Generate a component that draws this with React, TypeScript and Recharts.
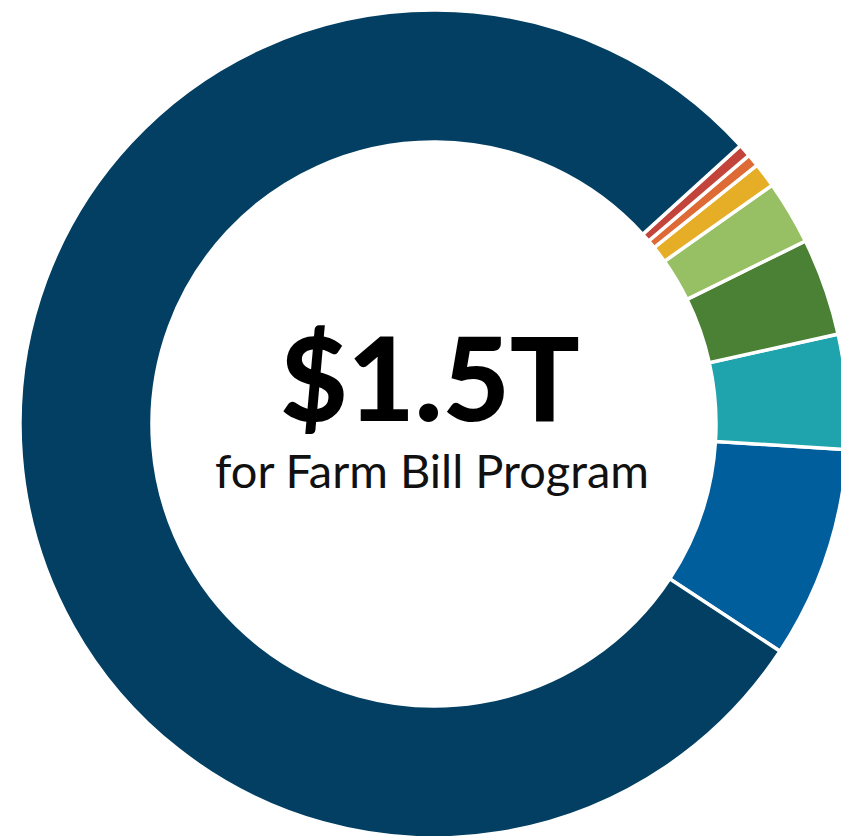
import { PieChart, Pie, Cell } from 'recharts';

// Farm Bill outlays ($B), ordered counter-clockwise from the bottom-right boundary
const programs = [
  'Crop Insurance',
  'Conservation',
  'Commodities',
  'Trade & Other',
  'Rural Development',
  'Research',
  'Forestry',
  'Nutrition',
];
const outlays = [124, 67, 57, 37.5, 14.5, 7.3, 7.5, 1185];
const colors = ['#005e9c', '#1fa3ad', '#4a8135', '#96c063', '#e6ad26', '#de6a35', '#c3443a', '#023f62'];

const totalLabel = '$1.5T';
const subLabel = 'for Farm Bill Program';

const data = programs.map((name, i) => ({ name, value: outlays[i] }));

export default function App() {
  return (
    <div style={{ position: 'absolute', left: 0, top: 0, width: 841, height: 836, background: '#fff' }}>
      <PieChart width={841} height={836}>
        <Pie
          data={data}
          dataKey="value"
          nameKey="name"
          cx={429}
          cy={419}
          innerRadius={282}
          outerRadius={414}
          startAngle={-33.3}
          endAngle={326.7}
          stroke="#fff"
          strokeWidth={3.5}
          isAnimationActive={false}
        >
          {data.map((d, i) => (
            <Cell key={d.name} fill={colors[i]} />
          ))}
        </Pie>
        <text
          x={430}
          y={421}
          textAnchor="middle"
          style={{ fontFamily: 'Lato', fontWeight: 900, fontSize: 116, fill: '#000' }}
        >
          {totalLabel}
        </text>
        <text
          x={432}
          y={488}
          textAnchor="middle"
          style={{ fontFamily: 'Lato', fontWeight: 400, fontSize: 47, fill: '#111' }}
        >
          {subLabel}
        </text>
      </PieChart>
    </div>
  );
}
